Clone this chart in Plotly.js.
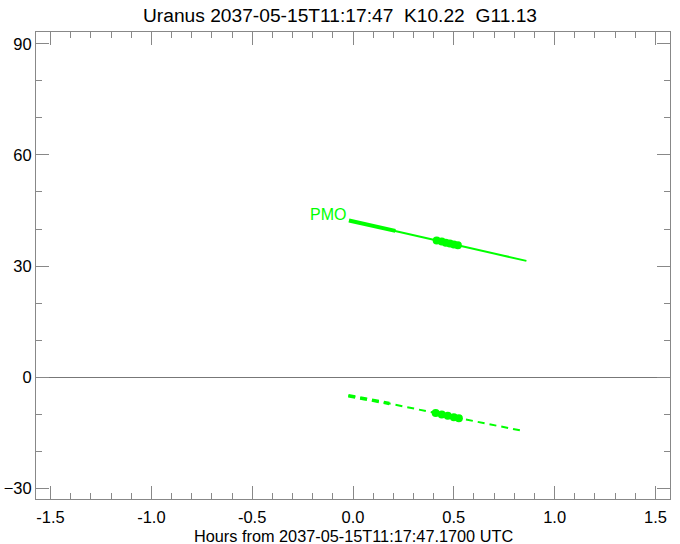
<!DOCTYPE html>
<html>
<head>
<meta charset="utf-8">
<script src="https://cdn.plot.ly/plotly-3.0.1.min.js"></script>
<style>html,body{margin:0;padding:0;background:#fff;}#chart{width:680px;height:544px;}</style>
</head>
<body>
<div id="chart"></div>
<script>
// Upper track (solid)
const hoursUpper = [-0.02, 0.2, 0.42, 0.53, 0.86];
const altUpper = [42.3, 39.6, 36.9, 35.6, 31.4];
// Thick part of upper track
const hoursUpperThick = [-0.02, 0.21];
const altUpperThick = [42.3, 39.5];
// Dots on upper track
const hoursUpperDots = [0.415, 0.44, 0.46, 0.48, 0.5, 0.52];
const altUpperDots = [36.9, 36.6, 36.3, 36.1, 35.8, 35.6];

// Lower track (dashed)
const hoursLower = [-0.023, 0.18, 0.41, 0.53, 0.84];
const altLower = [-5.0, -7.1, -9.7, -11.1, -14.5];
const hoursLowerThick = [-0.023, 0.18];
const altLowerThick = [-5.0, -7.1];
const hoursLowerDots = [0.41, 0.44, 0.47, 0.5, 0.525];
const altLowerDots = [-9.7, -10.1, -10.4, -10.8, -11.1];

const label = 'PMO';
const titleText = 'Uranus 2037-05-15T11:17:47  K10.22  G11.13';
const xTitle = 'Hours from 2037-05-15T11:17:47.1700 UTC';
const xTicks = [-1.5, -1.0, -0.5, 0.0, 0.5, 1.0, 1.5];
const xTickText = ['-1.5', '-1.0', '-0.5', '0.0', '0.5', '1.0', '1.5'];
const yTicks = [-30, 0, 30, 60, 90];

const green = '#00ff00';
const traces = [
  {x: hoursUpper, y: altUpper, mode: 'lines', line: {color: green, width: 2}},
  {x: hoursUpperThick, y: altUpperThick, mode: 'lines', line: {color: green, width: 4}},
  {x: hoursUpperDots, y: altUpperDots, mode: 'markers', marker: {color: green, size: 8}},
  {x: hoursLower, y: altLower, mode: 'lines', line: {color: green, width: 2, dash: '7px,5px'}},
  {x: hoursLowerThick, y: altLowerThick, mode: 'lines', line: {color: green, width: 3.5, dash: '7px,5px'}},
  {x: hoursLowerDots, y: altLowerDots, mode: 'markers', marker: {color: green, size: 8}}
];

const font = {family: 'Liberation Sans, Arial, sans-serif', color: '#000'};
const layout = {
  width: 680, height: 544,
  margin: {l: 36, r: 10, t: 32, b: 45},
  paper_bgcolor: '#fff', plot_bgcolor: '#fff',
  showlegend: false,
  font: Object.assign({size: 16}, font),
  title: {text: titleText, font: Object.assign({size: 19.2}, font), x: 0.5, xanchor: 'center', y: 0.985, yanchor: 'top'},
  xaxis: {
    range: [-1.572, 1.572], tickvals: xTicks, ticktext: xTickText,
    ticks: 'inside', ticklen: 13, tickcolor: '#888', tickwidth: 1,
    minor: {dtick: 0.1, ticks: 'inside', ticklen: 6, tickcolor: '#888', tickwidth: 1, showgrid: false},
    showline: true, linecolor: '#888', linewidth: 1, mirror: 'ticks',
    showgrid: false, zeroline: false,
    tickfont: Object.assign({size: 16.5}, font),
    ticklabelstandoff: 3
  },
  yaxis: {
    range: [-32.9, 93.2], tickvals: yTicks,
    ticks: 'inside', ticklen: 13, tickcolor: '#888', tickwidth: 1,
    minor: {dtick: 10, ticks: 'inside', ticklen: 6, tickcolor: '#888', tickwidth: 1, showgrid: false},
    showline: true, linecolor: '#888', linewidth: 1, mirror: 'ticks',
    showgrid: false, zeroline: true, zerolinecolor: '#777', zerolinewidth: 1,
    tickfont: Object.assign({size: 16.5}, font)
  },
  annotations: [{
    x: hoursUpper[0], y: 44, xref: 'x', yref: 'y', text: label, showarrow: false,
    xanchor: 'right', yanchor: 'middle', xshift: -1,
    font: Object.assign({}, font, {size: 16, color: green})
  }, {
    x: 0.5, y: 0, xref: 'paper', yref: 'paper', text: xTitle, showarrow: false,
    xanchor: 'center', yanchor: 'top', yshift: -26,
    font: Object.assign({}, font, {size: 16.3})
  }]
};
Plotly.newPlot('chart', traces, layout, {displayModeBar: false, staticPlot: true});
</script>
</body>
</html>
